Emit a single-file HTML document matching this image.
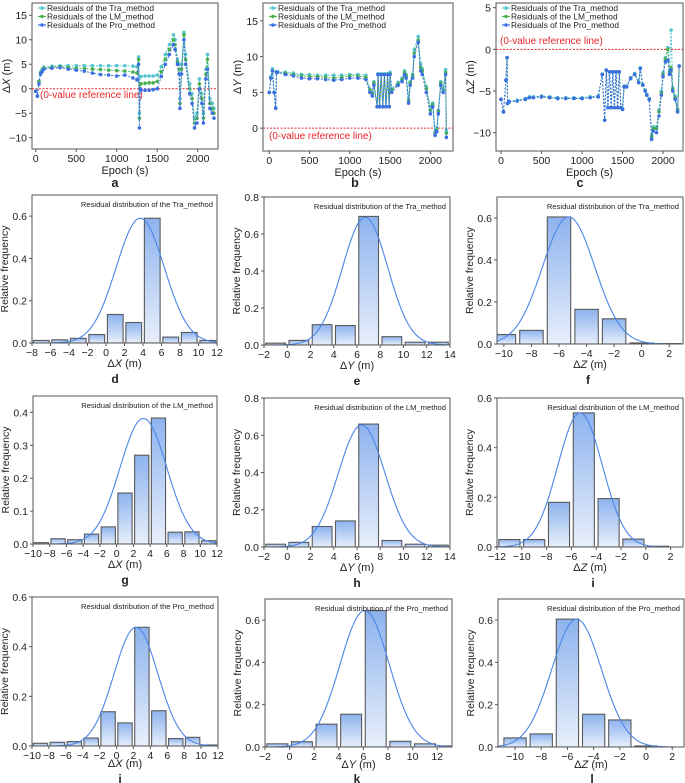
<!DOCTYPE html>
<html><head><meta charset="utf-8">
<style>
html,body{margin:0;padding:0;background:#fff;}
svg{display:block;font-family:"Liberation Sans",Arial,sans-serif;}
</style></head>
<body>
<svg id="fig" width="685" height="783" viewBox="0 0 685 783">
<defs>
<linearGradient id="barGrad" x1="0" y1="0" x2="0" y2="1">
<stop offset="0" stop-color="#8db3ee"/><stop offset="1" stop-color="#e8effb"/>
</linearGradient>
</defs>
</svg>
<script>
// ===== Time-series data =====
const aEpoch=[0,20,40,60,80,100,200,300,400,500,600,700,800,900,1000,1100,1200,1250,1270,1280,1290,1300,1350,1400,1450,1500,1550,1600,1650,1700,1720,1750,1770,1780,1800,1830,1850,1900,1930,1960,1990,2020,2050,2070,2100,2120,2150,2180,2200];
const aPro=[-0.5,-1.5,1,3,3.5,4,4.2,4.3,4,3.8,3.6,3.2,2.9,2.8,2.6,2.8,2.2,1.8,5,-8,0,-0.3,-0.3,-0.3,-0.2,0,2.5,5,7,9,8,5,3,-4,3,10,5,-1,-3,-8,-7,0,-3,-7,2,4,-4,-5,-6];
const aLM=[-0.5,-1.5,1.5,3.2,3.8,4.2,4.4,4.5,4.3,4.2,4.1,4,3.9,3.8,3.7,3.6,3.4,3.2,6,-6,1,1,1.1,1.2,1.2,1.5,3.5,6,8,10,9,5.5,4,-3,4,11,6,0,-2,-7,-6,1,-2,-6,3,6,-3,-4,-5];
const aTra=[-0.5,-1.5,1.5,3.4,4,4.4,4.6,4.7,4.7,4.7,4.7,4.7,4.7,4.7,4.7,4.7,4.6,4.5,6.5,-5,2.5,2.5,2.6,2.6,2.6,2.8,4.5,7,9,11,10,6,5,-2,5,11.5,7,1,-1,-6,-5,2,-1,-5,4,7,-2,-3,-4];

const bEpoch=[0,20,40,60,80,90,100,200,300,400,500,600,700,800,900,1000,1100,1200,1250,1280,1300,1340,1350,1370,1390,1410,1430,1450,1470,1490,1500,1520,1600,1650,1680,1700,1730,1750,1780,1800,1850,1880,1900,1950,2000,2030,2060,2080,2100,2130,2160,2190,2200];
const bPro=[5,7,8,5,2.8,7.8,7.8,7.5,7.3,7,6.9,6.9,6.8,6.7,6.8,7,7,6.8,5,4.5,6,3,7.5,3,7.5,3,7.5,3,7.5,3,7.5,5,6,6.5,7.5,7,3.5,6,7,10,12,8,7.5,5,2,3,-1,-0.5,2,6,5,7.5,-1.3];
const bLM=[5,7,8,5,2.8,7.8,7.8,7.7,7.5,7.3,7.2,7.2,7.1,7,7.1,7.3,7.3,7.1,5.3,4.8,6.3,3,7.5,3,7.5,3,7.5,3,7.5,3,7.6,5.3,6.2,6.8,7.8,7.3,3.8,6.3,7.3,10.5,12.3,8.5,8,5.5,2.5,3.3,-0.7,-0.3,2.3,6.3,5.2,7.8,-0.7];
const bTra=[5,7.2,8.3,5,2.8,7.9,7.9,7.8,7.7,7.5,7.5,7.4,7.4,7.4,7.4,7.5,7.5,7.4,5.5,5,6.5,3,7.6,3,7.6,3,7.6,3,7.6,3,7.8,5.5,6.4,7,8,7.5,4,6.5,7.5,11,12.8,9,8.3,5.8,3,3.5,-0.5,0,2.5,6.5,5.5,8.2,-0.3];

const cEpoch=[0,30,60,75,80,100,200,300,350,400,500,600,700,800,900,1000,1100,1200,1250,1280,1300,1320,1340,1360,1380,1400,1420,1440,1460,1480,1500,1520,1550,1600,1650,1700,1720,1750,1780,1800,1830,1860,1880,1920,1950,1980,2000,2030,2060,2080,2100,2120,2150,2180,2200];
const cPro=[-6,-7.5,-3.7,-1,-6.5,-6.3,-6.2,-6,-5.8,-5.8,-5.7,-5.8,-5.9,-5.9,-5.9,-5.9,-5.8,-5.7,-3,-8.5,-2.5,-7,-2.7,-7,-2.7,-7,-2.7,-7,-2.7,-7,-7.2,-4.5,-4.5,-3.5,-3,-4,-2.3,-4.3,-5,-5.5,-6,-10.8,-9.8,-10,-8,-5.5,-3.3,-1.5,-1.3,-3,-2.5,-5,-6,-7.5,-2];
const cLM=[-6,-7.5,-3.7,-1,-6.5,-6.3,-6.2,-6,-5.8,-5.8,-5.7,-5.8,-5.9,-5.9,-5.9,-5.9,-5.8,-5.7,-3,-8.5,-2.5,-7,-2.7,-7,-2.7,-7,-2.7,-7,-2.7,-7,-7.2,-4.5,-4.5,-3.5,-3,-4,-2.3,-4.3,-5,-5.5,-6,-10.5,-9.5,-9.5,-7.5,-5.2,-3,-1.2,0,-2.8,-2.2,-4.8,-5.8,-7.3,-2];
const cTra=[-6,-7.5,-3.7,-1,-6.5,-6.2,-6.1,-5.9,-5.7,-5.7,-5.6,-5.7,-5.8,-5.8,-5.8,-5.8,-5.7,-5.6,-3,-8.5,-2.5,-7,-2.7,-7,-2.7,-7,-2.7,-7,-2.7,-7,-7.1,-4.4,-4.4,-3.4,-2.9,-3.9,-2.2,-4.2,-4.9,-5.4,-5.9,-10.3,-9.3,-9.3,-7.3,-5,-2.8,-1,0.2,-2.6,2.3,-4.6,-5.6,-7.2,-2];

// ===== Histogram data (bin centres, relative frequency, fitted normal: mean, sigma, peak) =====
const dCenters=[-7,-5,-3,-1,1,3,5,7,9,11];
const dFreq=[0.012,0.015,0.022,0.04,0.135,0.097,0.59,0.028,0.05,0.012];
const dFit=[3.7,2.6,0.59];
const eCenters=[-1,1,3,5,7,9,11,13];
const eFreq=[0.01,0.025,0.11,0.105,0.695,0.045,0.015,0.015];
const eFit=[6.7,1.95,0.69];
const fCenters=[-10,-8,-6,-4,-2,0,2];
const fFreq=[0.045,0.065,0.605,0.165,0.12,0.005,0.002];
const fFit=[-5.3,1.9,0.605];
const gCenters=[-9,-7,-5,-3,-1,1,3,5,7,9,11];
const gFreq=[0.004,0.016,0.013,0.03,0.052,0.155,0.27,0.383,0.036,0.037,0.01];
const gFit=[3.2,2.8,0.382];
const hCenters=[-1,1,3,5,7,9,11,13];
const hFreq=[0.015,0.025,0.11,0.14,0.66,0.035,0.015,0.01];
const hFit=[6.4,2.0,0.655];
const iCenters=[-11,-9,-7,-5,-3,-1,1];
const iFreq=[0.03,0.03,0.18,0.54,0.195,0.032,0.003];
const iFit=[-5.3,1.8,0.54];
const jCenters=[-9,-7,-5,-3,-1,1,3,5,7,9,11];
const jFreq=[0.011,0.015,0.018,0.032,0.138,0.093,0.478,0.142,0.03,0.035,0.004];
const jFit=[2.3,2.6,0.478];
const kCenters=[-1,1,3,5,7,9,11,13];
const kFreq=[0.015,0.025,0.108,0.155,0.645,0.027,0.015,0.005];
const kFit=[6.1,2.0,0.645];
const lCenters=[-10,-8,-6,-4,-2,0];
const lFreq=[0.043,0.062,0.605,0.155,0.128,0.005];
const lFit=[-5.3,1.9,0.605];

const NS='http://www.w3.org/2000/svg';
const svg=document.getElementById('fig');
function mk(tag,attrs,parent){const e=document.createElementNS(NS,tag);for(const k in attrs)e.setAttribute(k,attrs[k]);(parent||svg).appendChild(e);return e;}
function txt(parent,x,y,s,size,anchor,extra){const t=mk('text',Object.assign({x:x,y:y,'font-size':size,'text-anchor':anchor||'middle',fill:'#222'},extra||{}),parent);t.textContent=s;return t;}
function axisLabel(parent,x,y,sym,rot){
  const t=mk('text',{x:x,y:y,'font-size':11,'text-anchor':'middle',fill:'#222'},parent);
  if(rot)t.setAttribute('transform','rotate(-90 '+x+' '+y+')');
  const a=mk('tspan',{},t);a.textContent='Δ';
  const b=mk('tspan',{'font-style':'italic'},t);b.textContent=sym;
  const c=mk('tspan',{},t);c.textContent=' (m)';
  return t;
}

function timePanel(name,letter,box,xr,yr,yTicks,epochs,tra,lm,pro,sym,refPos){
  const g=mk('g',{});
  
  
  const [x0,y0,x1,y1]=box;
  const X=v=>x0+(v-xr[0])/(xr[1]-xr[0])*(x1-x0);
  const Y=v=>y1-(v-yr[0])/(yr[1]-yr[0])*(y1-y0);
  const fr=mk('rect',{x:x0,y:y0,width:x1-x0,height:y1-y0,fill:'none',stroke:'#555','stroke-width':1},g);
  
  
  [0,500,1000,1500,2000].forEach(v=>{mk('line',{x1:X(v),x2:X(v),y1:y1,y2:y1+3,stroke:'#555'},g);txt(g,X(v),y1+13,String(v),10.5);});
  yTicks.forEach(v=>{mk('line',{x1:x0-3,x2:x0,y1:Y(v),y2:Y(v),stroke:'#555'},g);txt(g,x0-5,Y(v)+4,v<0?'−'+(-v):String(v),10.5,'end');});
  const xt=txt(g,(x0+x1)/2,y1+25,'Epoch (s)',11);
  
  
  const yt=axisLabel(g,x0-22,(y0+y1)/2,sym,true);
  
  
  const rl=mk('line',{x1:x0,x2:x1,y1:Y(0),y2:Y(0),stroke:'#e8262a','stroke-width':1,'stroke-dasharray':'2,1.5'},g);
  
  
  const rt=txt(g,refPos[0],refPos[1],'(0-value reference line)',10,'start',{fill:'#e8262a'});
  
  
  const series=[['tra',tra,'#58c4d4'],['lm',lm,'#4bb04f'],['pro',pro,'#3b6fe3']];
  series.forEach(([id,vals,col])=>{
    const sg=mk('g',{},g);
    
    
    const pts=epochs.map((e,i)=>X(e).toFixed(1)+','+Y(vals[i]).toFixed(1)).join(' ');
    mk('polyline',{points:pts,fill:'none',stroke:col,'stroke-width':1,'stroke-dasharray':'2,1.5'},sg);
    epochs.forEach((e,i)=>{const c=mk('circle',{cx:X(e),cy:Y(vals[i]),r:1.8,fill:col},sg);
      
      });
  });
  const lg=mk('g',{},g);
  
  
  [['Residuals of the Tra_method','#58c4d4'],['Residuals of the LM_method','#4bb04f'],['Residuals of the Pro_method','#3b6fe3']].forEach((s,i)=>{
    const ly=y0+5+i*8.5;
    const le=mk('g',{},lg);
    
    
    mk('line',{x1:x0+6,x2:x0+14,y1:ly,y2:ly,stroke:s[1],'stroke-width':1.2},le);
    mk('circle',{cx:x0+10,cy:ly,r:1.8,fill:s[1]},le);
    txt(le,x0+15,ly+3,s[0],8.4,'start');
  });
  const pl=txt(g,letter[1],letter[2],letter[0],12.5,'middle',{'font-weight':'bold'});
  
  
}

function histPanel(name,letter,box,xr,yr,xTicks,yTicks,centers,freq,fit,sym,method){
  const g=mk('g',{});
  
  
  const [x0,y0,x1,y1]=box;
  const X=v=>x0+(v-xr[0])/(xr[1]-xr[0])*(x1-x0);
  const Y=v=>y1-(v-yr[0])/(yr[1]-yr[0])*(y1-y0);
  const cp=mk('clipPath',{id:'cp'+name},g);
  mk('rect',{x:x0,y:y0,width:x1-x0,height:y1-y0},cp);
  const inner=mk('g',{'clip-path':'url(#cp'+name+')'},g);
  centers.forEach((c,i)=>{
    const r=mk('rect',{x:X(c-0.85),y:Y(freq[i]),width:X(c+0.85)-X(c-0.85),height:Y(0)-Y(freq[i]),fill:'url(#barGrad)',stroke:'#5a5a5a','stroke-width':1.1},inner);
    
    
  });
  const [mu,sd,pk]=fit;
  let pts=[];
  for(let k=0;k<=200;k++){const v=xr[0]+(xr[1]-xr[0])*k/200;pts.push(X(v).toFixed(1)+','+Y(pk*Math.exp(-0.5*((v-mu)/sd)**2)).toFixed(1));}
  const cv=mk('polyline',{points:pts.join(' '),fill:'none',stroke:'#4a86e8','stroke-width':1.1},inner);
  
  
  const fr=mk('rect',{x:x0,y:y0,width:x1-x0,height:y1-y0,fill:'none',stroke:'#555','stroke-width':1},g);
  
  
  xTicks.forEach(v=>{mk('line',{x1:X(v),x2:X(v),y1:y1,y2:y1+3,stroke:'#555'},g);txt(g,X(v),y1+13,v<0?'−'+(-v):String(v),10.5);});
  yTicks.forEach(v=>{mk('line',{x1:x0-3,x2:x0,y1:Y(v),y2:Y(v),stroke:'#555'},g);txt(g,x0-5,Y(v)+4,v.toFixed(1),10.5,'end');});
  const bottomRow=y1>700;
  const xt=axisLabel(g,(x0+x1)/2,y1+(bottomRow?21:24),sym,false);
  
  
  const yt=txt(g,x0-24,(y0+y1)/2,'Relative frequency',10.5,'middle');
  yt.setAttribute('transform','rotate(-90 '+(x0-24)+' '+((y0+y1)/2)+')');
  
  
  const st=txt(g,x1-4,y0+12,'Residual distribution of the '+method,7.6,'end');
  
  
  const pl=txt(g,letter[1],bottomRow?783:y1+40,letter[0],12,'middle',{'font-weight':'bold'});
  
  
}

timePanel('a',['a',115,187],[32,3,218,149],[-46,2250],[-12.3,17.5],[-10,-5,0,5,10,15],aEpoch,aTra,aLM,aPro,'X',[40,98]);
timePanel('b',['b',355,187],[263,3,453,151],[-78,2282],[-3.2,17.5],[0,5,10,15],bEpoch,bTra,bLM,bPro,'Y',[269,139]);
timePanel('c',['c',580,187],[496,3,683,151],[-62,2247],[-12.2,5.56],[-10,-5,0,5],cEpoch,cTra,cLM,cPro,'Z',[500,44]);

histPanel('d',['d',115],[32,195,217,343],[-8,12],[0,0.7],[-8,-6,-4,-2,0,2,4,6,8,10,12],[0,0.2,0.4,0.6],dCenters,dFreq,dFit,'X','Tra_method');
histPanel('e',['e',357],[264,197,450,345],[-2,14],[0,0.8],[-2,0,2,4,6,8,10,12,14],[0,0.2,0.4,0.6,0.8],eCenters,eFreq,eFit,'Y','Tra_method');
histPanel('f',['f',588],[497,197,683,344],[-10.5,3],[0,0.7],[-10,-8,-6,-4,-2,0,2],[0,0.2,0.4,0.6],fCenters,fFreq,fFit,'Z','Tra_method');
histPanel('g',['g',125],[33,396,217,544],[-10,12],[0,0.45],[-10,-8,-6,-4,-2,0,2,4,6,8,10,12],[0,0.1,0.2,0.3,0.4],gCenters,gFreq,gFit,'X','LM_method');
histPanel('h',['h',357],[264,398,450,547],[-2,14],[0,0.8],[-2,0,2,4,6,8,10,12,14],[0,0.2,0.4,0.6,0.8],hCenters,hFreq,hFit,'Y','LM_method');
histPanel('i',['i',593],[497,398,683,547],[-12,3],[0,0.6],[-12,-10,-8,-6,-4,-2,0,2],[0,0.2,0.4,0.6],iCenters,iFreq,iFit,'Z','LM_method');
histPanel('j',['j',120],[32,597,218,746],[-10,12],[0,0.6],[-10,-8,-6,-4,-2,0,2,4,6,8,10,12],[0,0.2,0.4,0.6],jCenters,jFreq,jFit,'X','Pro_method');
histPanel('k',['k',357],[265,599,452,747],[-2,13.2],[0,0.7],[-2,0,2,4,6,8,10,12],[0,0.2,0.4,0.6],kCenters,kFreq,kFit,'Y','Pro_method');
histPanel('l',['l',592],[498,599,684,747],[-11.3,2.9],[0,0.7],[-10,-8,-6,-4,-2,0,2],[0,0.2,0.4,0.6],lCenters,lFreq,lFit,'Z','Pro_method');
</script>
</body></html>
